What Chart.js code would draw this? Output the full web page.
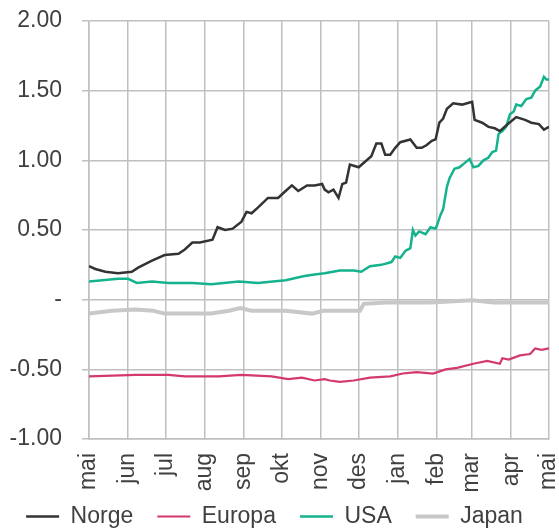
<!DOCTYPE html>
<html>
<head>
<meta charset="utf-8">
<script src="https://cdn.jsdelivr.net/npm/chart.js@4.4.1/dist/chart.umd.min.js"></script>
<style>
  html, body { margin: 0; padding: 0; background: #fff; }
  #wrap { width: 559px; height: 528px; }
</style>
</head>
<body>
<div id="wrap"><canvas id="chart" width="559" height="528"></canvas></div>
<script>
// x = days since 1 May, month ticks on the first of each month
const monthStarts = [0, 31, 61, 92, 123, 153, 184, 214, 245, 276, 304, 335, 365];
const monthLabels = ['mai', 'jun', 'jul', 'aug', 'sep', 'okt', 'nov', 'des', 'jan', 'feb', 'mar', 'apr', 'mai'];

const norgeDays = [0,5,13,23,34,39,50,60,71,76,82,88,98,102,108,114,121,125,129,134,142,150,156,161,166,173,179,185,187,190,194,198,201,204,207,214,219,224,228,232,235,239,243,247,255,260,264,268,272,275,278,281,284,289,296,300,304,306,312,317,322,326,331,339,346,351,357,361,365];
const norgeVals = [0.24,0.22,0.20,0.19,0.20,0.23,0.28,0.32,0.33,0.36,0.41,0.41,0.43,0.52,0.50,0.51,0.56,0.63,0.62,0.66,0.73,0.73,0.78,0.82,0.78,0.82,0.82,0.83,0.79,0.77,0.79,0.73,0.83,0.84,0.97,0.95,0.99,1.03,1.12,1.12,1.04,1.04,1.09,1.13,1.15,1.09,1.09,1.11,1.14,1.15,1.27,1.30,1.37,1.41,1.40,1.41,1.42,1.29,1.27,1.24,1.23,1.21,1.25,1.31,1.29,1.27,1.26,1.22,1.24];

const europaDays = [0,37,63,76,103,121,145,158,169,179,187,191,199,210,223,239,249,260,273,283,292,305,316,326,328,333,342,350,354,359,365];
const europaVals = [-0.55,-0.54,-0.54,-0.55,-0.55,-0.54,-0.55,-0.57,-0.56,-0.58,-0.57,-0.58,-0.59,-0.58,-0.56,-0.55,-0.53,-0.52,-0.53,-0.50,-0.49,-0.46,-0.44,-0.46,-0.42,-0.43,-0.40,-0.39,-0.35,-0.36,-0.35];

const usaDays = [0,23,31,38,50,63,82,97,119,134,156,171,179,187,199,210,216,223,232,240,243,247,251,255,257,259,262,267,271,275,276,279,281,284,286,290,294,298,302,305,309,313,317,320,323,325,328,331,334,337,339,343,347,351,354,358,361,363,365];
const usaVals = [0.13,0.15,0.15,0.12,0.13,0.12,0.12,0.11,0.13,0.12,0.14,0.17,0.18,0.19,0.21,0.21,0.20,0.24,0.25,0.27,0.31,0.30,0.35,0.37,0.50,0.46,0.49,0.47,0.52,0.51,0.53,0.61,0.65,0.81,0.87,0.94,0.95,0.98,1.01,0.95,0.96,1.00,1.02,1.06,1.07,1.19,1.21,1.24,1.33,1.35,1.40,1.39,1.44,1.45,1.50,1.53,1.60,1.58,1.58];

const japanDays = [0,18,37,51,60,76,97,111,120,129,156,177,186,215,218,236,271,304,321,365];
const japanVals = [-0.10,-0.08,-0.07,-0.08,-0.10,-0.10,-0.10,-0.08,-0.06,-0.08,-0.08,-0.10,-0.08,-0.08,-0.03,-0.02,-0.02,-0.005,-0.02,-0.02];

function toPoints(days, vals) {
    return days.map((d, i) => ({ x: d, y: vals[i] }));
}

const gridColor = '#c0c0c0';
const textColor = '#404040';

Chart.defaults.font.family = '"Liberation Sans", Arial, sans-serif';
Chart.defaults.font.size = 23;
Chart.defaults.color = textColor;

// month labels hang below the axis box, so let them draw past its bottom
const labelRoom = {
    id: 'labelRoom',
    afterLayout: chart => {
        chart.scales.x.bottom = chart.height;
    }
};

new Chart(document.getElementById('chart').getContext('2d'), {
    type: 'line',
    data: {
        datasets: [
            { label: 'Norge', data: toPoints(norgeDays, norgeVals), borderColor: '#333333', backgroundColor: '#333333', borderWidth: 2.5 },
            { label: 'Europa', data: toPoints(europaDays, europaVals), borderColor: '#d3396e', backgroundColor: '#d3396e', borderWidth: 2.2 },
            { label: 'USA', data: toPoints(usaDays, usaVals), borderColor: '#14b38e', backgroundColor: '#14b38e', borderWidth: 2.5 },
            { label: 'Japan', data: toPoints(japanDays, japanVals), borderColor: '#c8c8c8', backgroundColor: '#c8c8c8', borderWidth: 4 }
        ]
    },
    plugins: [labelRoom],
    options: {
        responsive: false,
        animation: false,
        layout: { padding: { left: 0, right: 10, top: 21, bottom: -10 } },
        elements: { point: { radius: 0 }, line: { tension: 0 } },
        plugins: {
            tooltip: { enabled: false },
            legend: {
                position: 'bottom',
                labels: {
                    usePointStyle: true,
                    pointStyle: 'line',
                    pointStyleWidth: 33,
                    padding: 24,
                    color: textColor,
                    font: { size: 23 }
                }
            }
        },
        scales: {
            x: {
                type: 'linear',
                min: 0,
                max: 365,
                afterBuildTicks: scale => {
                    scale.ticks = monthStarts.map(v => ({ value: v }));
                },
                afterFit: scale => {
                    scale.height = 42;
                    scale.paddingLeft = 0;
                    scale.paddingRight = 10;
                },
                grid: { color: gridColor, lineWidth: 1.5, tickLength: 0 },
                border: { color: gridColor, width: 1.5 },
                ticks: {
                    autoSkip: false,
                    minRotation: 90,
                    maxRotation: 90,
                    padding: 14,
                    color: textColor,
                    callback: value => monthLabels[monthStarts.indexOf(value)]
                }
            },
            y: {
                min: -1,
                max: 2,
                afterFit: scale => {
                    scale.width = 89;
                    scale.paddingTop = 0;
                    scale.paddingBottom = 0;
                },
                grid: { color: gridColor, lineWidth: 1.5, tickLength: 7 },
                border: { color: gridColor, width: 1.5 },
                ticks: {
                    stepSize: 0.5,
                    padding: 20,
                    color: textColor,
                    callback: value => value === 0 ? '-' : value.toFixed(2)
                }
            }
        }
    }
});
</script>
</body>
</html>
